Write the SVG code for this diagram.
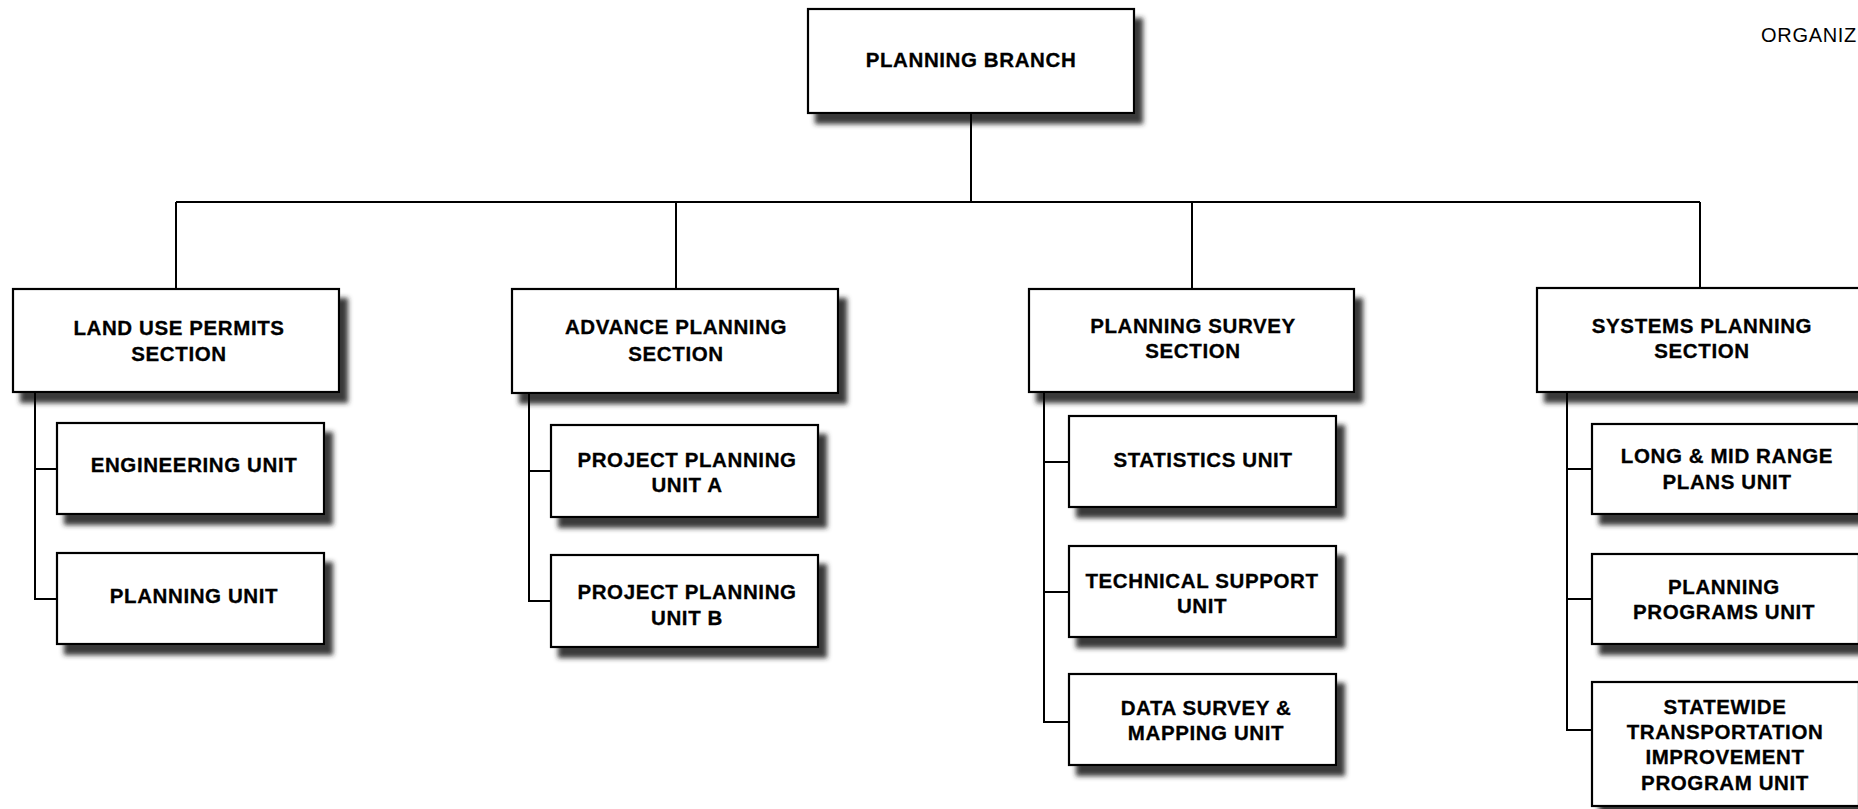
<svg xmlns="http://www.w3.org/2000/svg" width="1858" height="809" viewBox="0 0 1858 809">
<defs>
<filter id="sh" x="-10%" y="-20%" width="130%" height="150%">
<feGaussianBlur in="SourceAlpha" stdDeviation="2.5"/>
<feOffset dx="8" dy="10" result="b"/>
<feFlood flood-color="#262626" flood-opacity="0.9"/>
<feComposite in2="b" operator="in" result="s"/>
<feMerge><feMergeNode in="s"/><feMergeNode in="SourceGraphic"/></feMerge>
</filter>
</defs>
<style>
.box{fill:#fff;stroke:#000;stroke-width:2.2;filter:url(#sh)}
.t{font-family:"Liberation Sans",Arial,sans-serif;font-weight:bold;font-size:20.5px;letter-spacing:0.6px;text-anchor:middle;fill:#000;stroke:#000;stroke-width:0.3}
.c{fill:none;stroke:#000;stroke-width:2}
.hdr{font-family:"Liberation Sans",Arial,sans-serif;font-size:20px;letter-spacing:0.7px;fill:#000}
</style>
<rect width="1858" height="809" fill="#fff"/>
<text class="hdr" x="1761" y="42">ORGANIZ</text>

<g id="branch"><rect class="box" x="808" y="9" width="326" height="104"/><text class="t" x="971" y="67">PLANNING BRANCH</text></g>

<g id="landuse"><rect class="box" x="13" y="289" width="326" height="103"/><text class="t" x="179" y="335">LAND USE PERMITS</text><text class="t" x="179" y="361">SECTION</text></g>
<g id="advance"><rect class="box" x="512" y="289" width="326" height="104"/><text class="t" x="676" y="334">ADVANCE PLANNING</text><text class="t" x="676" y="361">SECTION</text></g>
<g id="survey"><rect class="box" x="1029" y="289" width="325" height="103"/><text class="t" x="1193" y="333">PLANNING SURVEY</text><text class="t" x="1193" y="358">SECTION</text></g>
<g id="systems"><rect class="box" x="1537" y="288" width="326" height="104"/><text class="t" x="1702" y="333">SYSTEMS PLANNING</text><text class="t" x="1702" y="358">SECTION</text></g>

<g id="engineering"><rect class="box" x="57" y="423" width="267" height="91"/><text class="t" x="194" y="472">ENGINEERING UNIT</text></g>
<g id="planningunit"><rect class="box" x="57" y="553" width="267" height="91"/><text class="t" x="194" y="603">PLANNING UNIT</text></g>

<g id="ppa"><rect class="box" x="551" y="425" width="267" height="92"/><text class="t" x="687" y="467">PROJECT PLANNING</text><text class="t" x="687" y="492">UNIT A</text></g>
<g id="ppb"><rect class="box" x="551" y="555" width="267" height="92"/><text class="t" x="687" y="599">PROJECT PLANNING</text><text class="t" x="687" y="625">UNIT B</text></g>

<g id="stats"><rect class="box" x="1069" y="416" width="267" height="91"/><text class="t" x="1203" y="467">STATISTICS UNIT</text></g>
<g id="tech"><rect class="box" x="1069" y="546" width="267" height="91"/><text class="t" x="1202" y="588">TECHNICAL SUPPORT</text><text class="t" x="1202" y="613">UNIT</text></g>
<g id="data"><rect class="box" x="1069" y="674" width="267" height="91"/><text class="t" x="1206" y="715">DATA SURVEY &amp;</text><text class="t" x="1206" y="740">MAPPING UNIT</text></g>

<g id="longmid"><rect class="box" x="1592" y="424" width="267" height="90"/><text class="t" x="1727" y="463">LONG &amp; MID RANGE</text><text class="t" x="1727" y="489">PLANS UNIT</text></g>
<g id="programs"><rect class="box" x="1592" y="554" width="267" height="90"/><text class="t" x="1724" y="594">PLANNING</text><text class="t" x="1724" y="619">PROGRAMS UNIT</text></g>
<g id="statewide"><rect class="box" x="1592" y="682" width="267" height="124"/><text class="t" x="1725" y="714">STATEWIDE</text><text class="t" x="1725" y="739">TRANSPORTATION</text><text class="t" x="1725" y="764">IMPROVEMENT</text><text class="t" x="1725" y="790">PROGRAM UNIT</text></g>

<g id="connectors">
<path class="c" d="M971,114 V202 M176,202 H1700 M176,202 V288 M676,202 V288 M1192,202 V288 M1700,202 V287"/>
<path class="c" d="M35,393 V599 H57 M35,469 H57"/>
<path class="c" d="M529,394 V601 H551 M529,471 H551"/>
<path class="c" d="M1044,393 V722 H1069 M1044,462 H1069 M1044,592 H1069"/>
<path class="c" d="M1567,393 V730 H1592 M1567,469 H1592 M1567,599 H1592"/>
</g>
</svg>
